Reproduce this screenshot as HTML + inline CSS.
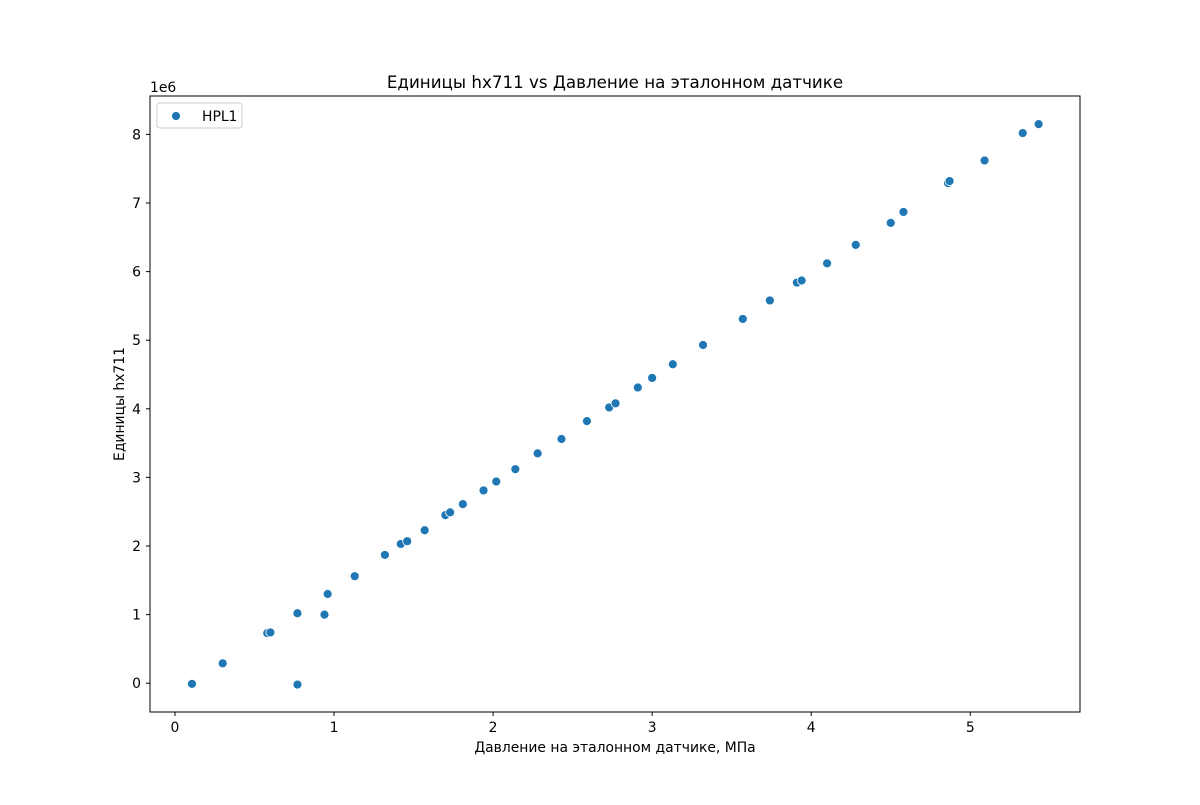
<!DOCTYPE html>
<html><head><meta charset="utf-8"><style>
body{margin:0;background:#fff;}
svg text{font-family:"DejaVu Sans","Liberation Sans",sans-serif;fill:#000;}
</style></head><body>
<svg id="chart" width="1200" height="800" xmlns="http://www.w3.org/2000/svg">
<rect width="1200" height="800" fill="#fff"/>
<text x="615" y="88" font-size="16.7" text-anchor="middle">Единицы hx711 vs Давление на эталонном датчике</text>
<g id="marks"></g>
<g id="axes"></g>
<rect x="150" y="96" width="930" height="616" fill="none" stroke="#000" stroke-width="1"/>
<text x="615" y="752" font-size="13.9" text-anchor="middle">Давление на эталонном датчике, МПа</text>
<text transform="translate(124,404) rotate(-90)" font-size="13.9" text-anchor="middle">Единицы hx711</text>
<text x="150" y="92" font-size="13.9">1e6</text>
<g>
<rect x="157" y="103" width="85" height="25" rx="3" fill="#fff" stroke="#ccc"/>
<circle cx="176" cy="116" r="4.5" fill="#1f77b4" stroke="#fff" stroke-width="0.8"/>
<text x="202" y="121" font-size="13.9">HPL1</text>
</g>
</svg>
<script>
const pressure=[0.107,0.30,0.58,0.60,0.77,0.77,0.94,0.96,1.13,1.32,1.42,1.46,1.57,1.70,1.73,1.81,1.94,2.02,2.14,2.28,2.43,2.59,2.73,2.77,2.91,3.00,3.13,3.32,3.57,3.74,3.91,3.94,4.10,4.28,4.50,4.58,4.86,4.87,5.09,5.33,5.43];
const units=[-0.01,0.29,0.73,0.74,1.02,-0.02,1.00,1.30,1.56,1.87,2.03,2.07,2.23,2.45,2.49,2.61,2.81,2.94,3.12,3.35,3.56,3.82,4.02,4.08,4.31,4.45,4.65,4.93,5.31,5.58,5.84,5.87,6.12,6.39,6.71,6.87,7.29,7.32,7.62,8.02,8.15];
const xTicks=[0,1,2,3,4,5];
const yTicks=[0,1,2,3,4,5,6,7,8];
const NS="http://www.w3.org/2000/svg";
const X0=150,X1=1080,Y0=712,Y1=96,xmin=-0.157,xmax=5.69,ymin=-0.42,ymax=8.56;
const sx=v=>X0+(v-xmin)/(xmax-xmin)*(X1-X0);
const sy=v=>Y0-(v-ymin)/(ymax-ymin)*(Y0-Y1);
const marks=document.getElementById('marks'),axes=document.getElementById('axes');
pressure.forEach((p,i)=>{
 const c=document.createElementNS(NS,'circle');
 
 
 c.setAttribute('cx',sx(p));c.setAttribute('cy',sy(units[i]));c.setAttribute('r',4.5);
 c.setAttribute('fill','#1f77b4');c.setAttribute('stroke','#fff');c.setAttribute('stroke-width','0.8');
 marks.appendChild(c);
});
xTicks.forEach(t=>{
 const x=sx(t);
 const l=document.createElementNS(NS,'line');
 
 
 l.setAttribute('x1',x);l.setAttribute('x2',x);l.setAttribute('y1',712);l.setAttribute('y2',716);l.setAttribute('stroke','#000');
 axes.appendChild(l);
 const tx=document.createElementNS(NS,'text');
 
 
 tx.setAttribute('x',x);tx.setAttribute('y',732);tx.setAttribute('font-size','13.9');tx.setAttribute('text-anchor','middle');
 tx.textContent=t;axes.appendChild(tx);
});
yTicks.forEach(t=>{
 const y=sy(t);
 const l=document.createElementNS(NS,'line');
 
 
 l.setAttribute('x1',146);l.setAttribute('x2',150);l.setAttribute('y1',y);l.setAttribute('y2',y);l.setAttribute('stroke','#000');
 axes.appendChild(l);
 const tx=document.createElementNS(NS,'text');
 
 
 tx.setAttribute('x',141);tx.setAttribute('y',y+5);tx.setAttribute('font-size','13.9');tx.setAttribute('text-anchor','end');
 tx.textContent=t;axes.appendChild(tx);
});
</script>
</body></html>
